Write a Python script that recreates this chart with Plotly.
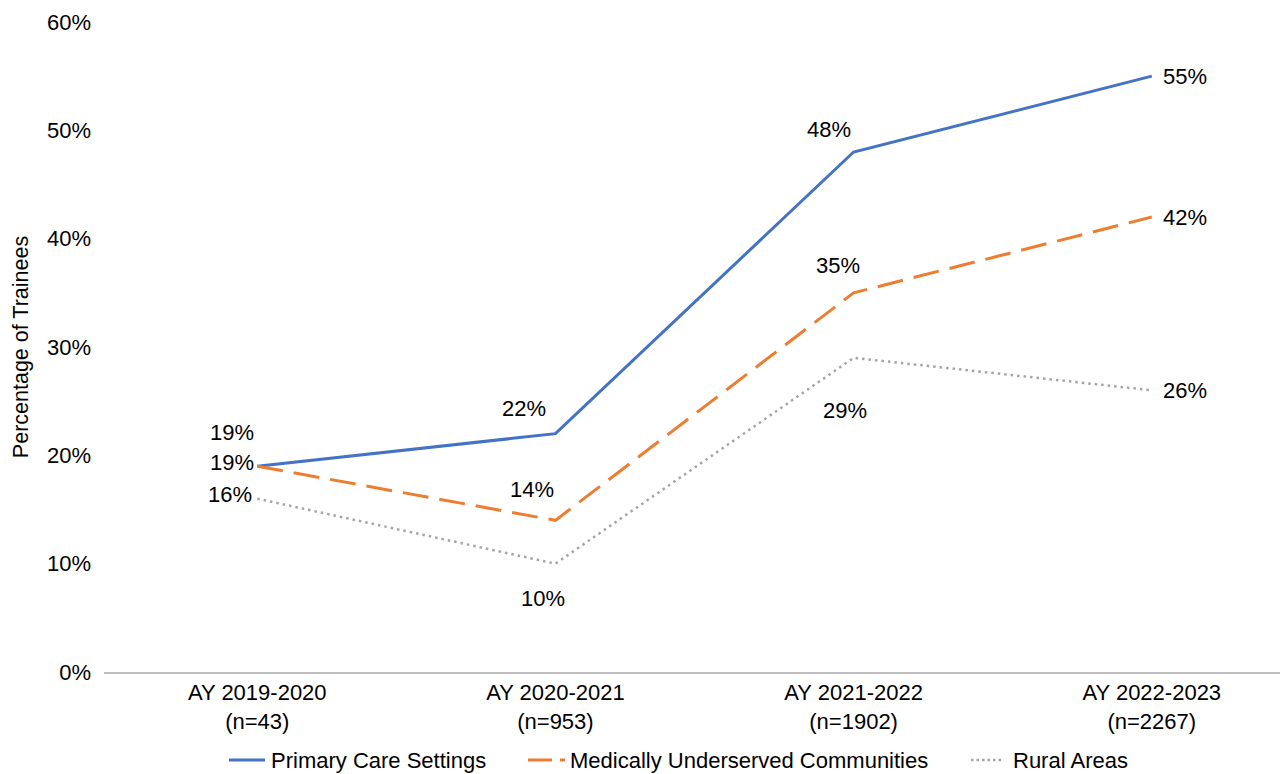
import plotly.graph_objects as go

# Academic years with trainee counts
years = ["AY 2019-2020", "AY 2020-2021", "AY 2021-2022", "AY 2022-2023"]
trainees = [43, 953, 1902, 2267]

# Share of trainees (%) by practice setting
primary_care = [19, 22, 48, 55]
underserved = [19, 14, 35, 42]
rural = [16, 10, 29, 26]

series_names = ["Primary Care Settings", "Medically Underserved Communities", "Rural Areas"]

tick_text = [f"{y}<br>(n={n})" for y, n in zip(years, trainees)]
xs = list(range(len(years)))

FONT = "Liberation Sans, Arial, sans-serif"
SIZE = 22
BLUE = "#4472C4"
ORANGE = "#ED7D31"
GRAY = "#A5A5A5"

W, H = 1280, 774
ML, MR, MT, MB = 104, 0, 22, 102
PW, PH = W - ML - MR, H - MT - MB


def px_x(p):
    return (p - ML) / PW


def px_y(p):
    return (H - MB - p) / PH


styles = [
    dict(color=BLUE, width=3),
    dict(color=ORANGE, width=3, dash="26px,11px"),
    dict(color=GRAY, width=2.5, dash="2.5px,4px"),
]

fig = go.Figure()
for name, vals, st in zip(series_names, (primary_care, underserved, rural), styles):
    fig.add_trace(go.Scatter(
        x=xs, y=[v / 100 for v in vals], mode="lines", name=name,
        line=st, showlegend=False, hoverinfo="x+y+name",
    ))

# Data label offsets (px) per series
offsets = [
    [(-25, 34), (-31, 25), (-25, 23), (33, 0)],
    [(-25, 4), (-23, 31), (-16, 27), (33, 0)],
    [(-27, 4), (-12, -35), (-9, -53), (33, 0)],
]
for vals, offs in zip((primary_care, underserved, rural), offsets):
    for i, v in enumerate(vals):
        dx, dy = offs[i]
        fig.add_annotation(
            x=i, y=v / 100, text=f"{v}%", showarrow=False,
            xshift=dx, yshift=dy, xanchor="center", yanchor="middle",
            font=dict(family=FONT, size=SIZE, color="#000000"),
        )

# Legend along the bottom: sample line + label for each series
legend_y = px_y(760)
legend_items = [
    ((229, 265), 269, styles[0]),
    ((528, 565), 568, dict(color=ORANGE, width=3, dash="24px,8px,5px")),
    ((971, 1004), 1011, dict(color=GRAY, width=2.5, dash="2.5px,3px")),
]
for name, ((x0, x1), tx, st) in zip(series_names, legend_items):
    fig.add_shape(
        type="line", xref="paper", yref="paper",
        x0=px_x(x0), x1=px_x(x1), y0=legend_y, y1=legend_y, line=st,
    )
    fig.add_annotation(
        xref="paper", yref="paper", x=px_x(tx), y=legend_y, text=name,
        showarrow=False, xanchor="left", yanchor="middle",
        font=dict(family=FONT, size=SIZE, color="#000000"),
    )

fig.update_layout(
    width=W, height=H,
    margin=dict(l=ML, r=MR, t=MT, b=MB, autoexpand=False),
    paper_bgcolor="white", plot_bgcolor="white",
    font=dict(family=FONT, size=SIZE, color="#000000"),
    showlegend=False,
)
fig.update_xaxes(
    range=[-0.514, 3.43], tickmode="array", tickvals=xs, ticktext=tick_text,
    showgrid=False, zeroline=False, showline=True, linecolor="#BFBFBF", linewidth=1.5,
    ticks="", automargin=False, tickfont=dict(family=FONT, size=SIZE, color="#000000"),
)
fig.update_yaxes(
    range=[0, 0.6], dtick=0.1, tickformat=".0%",
    showgrid=False, zeroline=False, showline=False, ticks="",
    ticklabelstandoff=12, automargin=False,
    tickfont=dict(family=FONT, size=SIZE, color="#000000"),
    title=dict(text="Percentage of Trainees", standoff=12,
               font=dict(family=FONT, size=21.5, color="#000000")),
)

fig.write_html("out.html")
